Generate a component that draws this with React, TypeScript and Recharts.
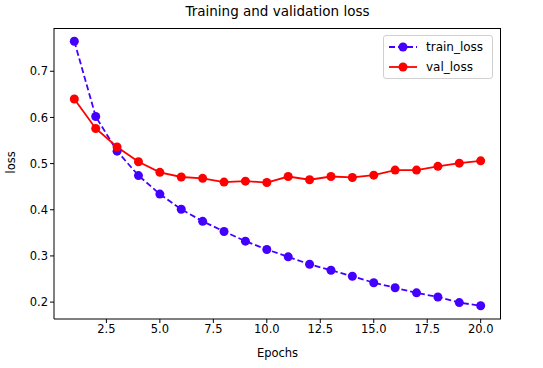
import React from 'react';
import { LineChart, Line, XAxis, YAxis } from 'recharts';

const epochs = [1, 2, 3, 4, 5, 6, 7, 8, 9, 10, 11, 12, 13, 14, 15, 16, 17, 18, 19, 20];
const trainLoss = [0.765, 0.602, 0.527, 0.474, 0.434, 0.401, 0.375, 0.353, 0.332, 0.314, 0.298, 0.282, 0.269, 0.256, 0.242, 0.231, 0.22, 0.211, 0.199, 0.192];
const valLoss = [0.64, 0.576, 0.536, 0.504, 0.481, 0.471, 0.468, 0.46, 0.462, 0.459, 0.472, 0.465, 0.472, 0.47, 0.475, 0.486, 0.486, 0.494, 0.501, 0.506];
const xTicks = [2.5, 5, 7.5, 10, 12.5, 15, 17.5, 20];
const yTicks = [0.2, 0.3, 0.4, 0.5, 0.6, 0.7];

const TRAIN = '#4400ff';
const VAL = '#ff0000';
const FONT = '"DejaVu Sans", sans-serif';

const data = epochs.map((e, i) => ({ epoch: e, train_loss: trainLoss[i], val_loss: valLoss[i] }));

const LegendBox = () => (
  <div
    style={{
      position: 'absolute',
      left: 383,
      top: 35,
      width: 110,
      height: 44,
      border: '1px solid #d0d0d0',
      borderRadius: 3,
      background: '#fff',
      fontFamily: FONT,
      fontSize: 12,
      color: '#000',
      boxSizing: 'border-box',
      paddingTop: 1,
    }}
  >
    {[
      { name: 'train_loss', color: TRAIN, dash: '6 3' },
      { name: 'val_loss', color: VAL, dash: undefined },
    ].map((s) => (
      <div key={s.name} style={{ display: 'flex', alignItems: 'center', height: 20 }}>
        <svg width={40} height={20} style={{ marginLeft: 2 }}>
          <line x1={3} y1={10} x2={31} y2={10} stroke={s.color} strokeWidth={1.8} strokeDasharray={s.dash} />
          <circle cx={17} cy={10} r={4.5} fill={s.color} />
        </svg>
        <span>{s.name}</span>
      </div>
    ))}
  </div>
);

export default function App() {
  return (
    <div style={{ position: 'absolute', left: 0, top: 0, width: 543, height: 368, background: '#fff' }}>
      <div
        style={{
          position: 'absolute',
          top: 3,
          left: 54,
          width: 447,
          textAlign: 'center',
          fontFamily: FONT,
          fontSize: 13.5,
          color: '#000',
        }}
      >
        Training and validation loss
      </div>
      <LineChart width={543} height={368} data={data} margin={{ top: 28, right: 42, left: 0, bottom: 0 }}>
        <XAxis
          dataKey="epoch"
          type="number"
          domain={[0.05, 20.95]}
          allowDataOverflow
          ticks={xTicks}
          tickFormatter={(v: number) => v.toFixed(1)}
          height={49}
          stroke="#000"
          tickSize={4}
          tick={{ fill: '#000', fontSize: 11.5, fontFamily: FONT }}
          label={{ value: 'Epochs', position: 'insideBottom', offset: 11, fill: '#000', fontSize: 11.5, fontFamily: FONT }}
        />
        <YAxis
          type="number"
          domain={[0.1634, 0.7937]}
          allowDataOverflow
          ticks={yTicks}
          tickFormatter={(v: number) => v.toFixed(1)}
          width={54}
          stroke="#000"
          tickSize={4}
          tick={{ fill: '#000', fontSize: 11.5, fontFamily: FONT }}
          label={{ value: 'loss', angle: -90, position: 'insideLeft', offset: 11, fill: '#000', fontSize: 11.5, fontFamily: FONT }}
        />
        <Line
          dataKey="train_loss"
          stroke={TRAIN}
          strokeWidth={1.8}
          strokeDasharray="6 3"
          dot={{ r: 4.5, fill: TRAIN, stroke: TRAIN, strokeWidth: 0, strokeDasharray: '' }}
          activeDot={false}
          isAnimationActive={false}
        />
        <Line
          dataKey="val_loss"
          stroke={VAL}
          strokeWidth={1.8}
          dot={{ r: 4.5, fill: VAL, stroke: VAL, strokeWidth: 0 }}
          activeDot={false}
          isAnimationActive={false}
        />
      </LineChart>
      <div
        style={{
          position: 'absolute',
          left: 54,
          top: 28,
          width: 447,
          height: 291,
          border: '1px solid #000',
          borderLeft: 'none',
          borderBottom: 'none',
          boxSizing: 'border-box',
          pointerEvents: 'none',
        }}
      />
      <LegendBox />
    </div>
  );
}
